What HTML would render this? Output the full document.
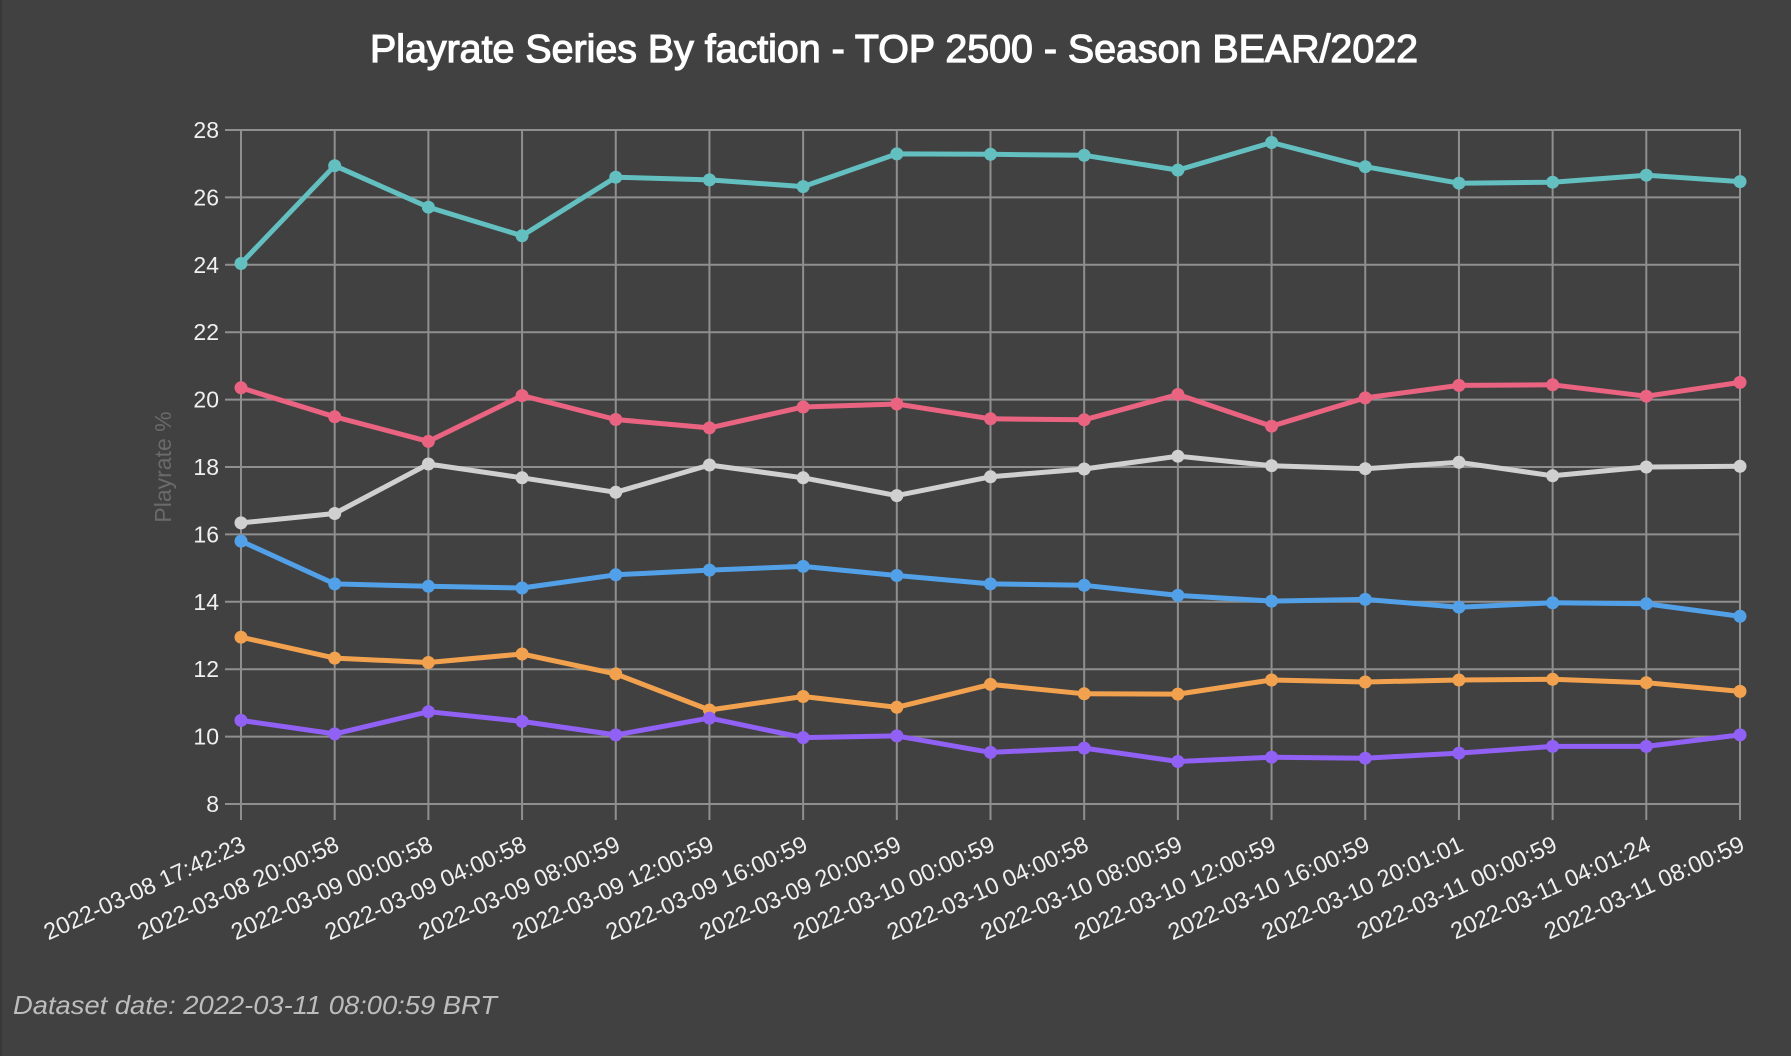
<!DOCTYPE html>
<html><head><meta charset="utf-8"><style>
html,body{margin:0;padding:0;background:#414141;}
body{width:1791px;height:1056px;overflow:hidden;}
svg{display:block;}
</style></head><body>
<svg width="1791" height="1056" viewBox="0 0 1791 1056" xmlns="http://www.w3.org/2000/svg" font-family="'Liberation Sans', Arial, sans-serif">
<rect x="0" y="0" width="1791" height="1056" fill="#414141"/>
<rect x="0" y="0" width="2" height="1056" fill="#383838"/>
<text x="370" y="62" font-size="39" fill="#ffffff" stroke="#ffffff" stroke-width="1.2" textLength="1048" lengthAdjust="spacingAndGlyphs">Playrate Series By faction - TOP 2500 - Season BEAR/2022</text>

<g stroke="#8f8f8f" stroke-width="2" fill="none">
<path d="M225 130H1741M225 197.4H1741M225 264.8H1741M225 332.2H1741M225 399.6H1741M225 467H1741M225 534.4H1741M225 601.8H1741M225 669.2H1741M225 736.6H1741M225 804H1741"/>
<path d="M241 130V820M334.69 130V820M428.38 130V820M522.06 130V820M615.75 130V820M709.44 130V820M803.13 130V820M896.81 130V820M990.5 130V820M1084.19 130V820M1177.88 130V820M1271.56 130V820M1365.25 130V820M1458.94 130V820M1552.63 130V820M1646.31 130V820M1740 130V820"/>
</g>

<g font-size="23" fill="#f0f0f0" text-anchor="end">
<text x="219" y="138">28</text>
<text x="219" y="205.4">26</text>
<text x="219" y="272.8">24</text>
<text x="219" y="340.2">22</text>
<text x="219" y="407.6">20</text>
<text x="219" y="475">18</text>
<text x="219" y="542.4">16</text>
<text x="219" y="609.8">14</text>
<text x="219" y="677.2">12</text>
<text x="219" y="744.6">10</text>
<text x="219" y="812">8</text>
</g>

<text transform="translate(171,467) rotate(-90)" font-size="23" fill="#6a6a6a" text-anchor="middle">Playrate %</text>

<g font-size="23.5" fill="#f0f0f0" text-anchor="end">
<text transform="translate(247,850) rotate(-24.5)">2022-03-08 17:42:23</text>
<text transform="translate(340.69,850) rotate(-24.5)">2022-03-08 20:00:58</text>
<text transform="translate(434.38,850) rotate(-24.5)">2022-03-09 00:00:58</text>
<text transform="translate(528.06,850) rotate(-24.5)">2022-03-09 04:00:58</text>
<text transform="translate(621.75,850) rotate(-24.5)">2022-03-09 08:00:59</text>
<text transform="translate(715.44,850) rotate(-24.5)">2022-03-09 12:00:59</text>
<text transform="translate(809.13,850) rotate(-24.5)">2022-03-09 16:00:59</text>
<text transform="translate(902.81,850) rotate(-24.5)">2022-03-09 20:00:59</text>
<text transform="translate(996.5,850) rotate(-24.5)">2022-03-10 00:00:59</text>
<text transform="translate(1090.19,850) rotate(-24.5)">2022-03-10 04:00:58</text>
<text transform="translate(1183.88,850) rotate(-24.5)">2022-03-10 08:00:59</text>
<text transform="translate(1277.56,850) rotate(-24.5)">2022-03-10 12:00:59</text>
<text transform="translate(1371.25,850) rotate(-24.5)">2022-03-10 16:00:59</text>
<text transform="translate(1464.94,850) rotate(-24.5)">2022-03-10 20:01:01</text>
<text transform="translate(1558.63,850) rotate(-24.5)">2022-03-11 00:00:59</text>
<text transform="translate(1652.31,850) rotate(-24.5)">2022-03-11 04:01:24</text>
<text transform="translate(1746,850) rotate(-24.5)">2022-03-11 08:00:59</text>
</g>

<!-- Teal -->
<g fill="#63bfc0" stroke="#63bfc0">
<polyline fill="none" stroke-width="5" stroke-linejoin="round" points="241,263.5 334.69,165.7 428.38,207.2 522.06,235.8 615.75,177.2 709.44,179.9 803.13,186.6 896.81,153.9 990.5,154.3 1084.19,155.3 1177.88,170.1 1271.56,142.5 1365.25,166.7 1458.94,183.2 1552.63,182.2 1646.31,175.2 1740,181.6"/>
<g stroke="none">
<circle cx="241" cy="263.5" r="6.5"/><circle cx="334.69" cy="165.7" r="6.5"/><circle cx="428.38" cy="207.2" r="6.5"/><circle cx="522.06" cy="235.8" r="6.5"/><circle cx="615.75" cy="177.2" r="6.5"/><circle cx="709.44" cy="179.9" r="6.5"/><circle cx="803.13" cy="186.6" r="6.5"/><circle cx="896.81" cy="153.9" r="6.5"/><circle cx="990.5" cy="154.3" r="6.5"/><circle cx="1084.19" cy="155.3" r="6.5"/><circle cx="1177.88" cy="170.1" r="6.5"/><circle cx="1271.56" cy="142.5" r="6.5"/><circle cx="1365.25" cy="166.7" r="6.5"/><circle cx="1458.94" cy="183.2" r="6.5"/><circle cx="1552.63" cy="182.2" r="6.5"/><circle cx="1646.31" cy="175.2" r="6.5"/><circle cx="1740" cy="181.6" r="6.5"/>
</g></g>

<!-- Red -->
<g fill="#ea6482" stroke="#ea6482">
<polyline fill="none" stroke-width="5" stroke-linejoin="round" points="241,387.8 334.69,416.8 428.38,441.4 522.06,395.6 615.75,419.5 709.44,427.9 803.13,407 896.81,404 990.5,418.8 1084.19,419.8 1177.88,394.5 1271.56,426.2 1365.25,397.9 1458.94,385.4 1552.63,384.8 1646.31,396.2 1740,382.4"/>
<g stroke="none">
<circle cx="241" cy="387.8" r="6.5"/><circle cx="334.69" cy="416.8" r="6.5"/><circle cx="428.38" cy="441.4" r="6.5"/><circle cx="522.06" cy="395.6" r="6.5"/><circle cx="615.75" cy="419.5" r="6.5"/><circle cx="709.44" cy="427.9" r="6.5"/><circle cx="803.13" cy="407" r="6.5"/><circle cx="896.81" cy="404" r="6.5"/><circle cx="990.5" cy="418.8" r="6.5"/><circle cx="1084.19" cy="419.8" r="6.5"/><circle cx="1177.88" cy="394.5" r="6.5"/><circle cx="1271.56" cy="426.2" r="6.5"/><circle cx="1365.25" cy="397.9" r="6.5"/><circle cx="1458.94" cy="385.4" r="6.5"/><circle cx="1552.63" cy="384.8" r="6.5"/><circle cx="1646.31" cy="396.2" r="6.5"/><circle cx="1740" cy="382.4" r="6.5"/>
</g></g>

<!-- Gray -->
<g fill="#d0d0d0" stroke="#d0d0d0">
<polyline fill="none" stroke-width="5" stroke-linejoin="round" points="241,522.9 334.69,513.5 428.38,464 522.06,477.8 615.75,492.3 709.44,465 803.13,477.8 896.81,495.6 990.5,476.8 1084.19,469 1177.88,456.2 1271.56,465.7 1365.25,468.7 1458.94,462.3 1552.63,475.8 1646.31,467 1740,466.3"/>
<g stroke="none">
<circle cx="241" cy="522.9" r="6.5"/><circle cx="334.69" cy="513.5" r="6.5"/><circle cx="428.38" cy="464" r="6.5"/><circle cx="522.06" cy="477.8" r="6.5"/><circle cx="615.75" cy="492.3" r="6.5"/><circle cx="709.44" cy="465" r="6.5"/><circle cx="803.13" cy="477.8" r="6.5"/><circle cx="896.81" cy="495.6" r="6.5"/><circle cx="990.5" cy="476.8" r="6.5"/><circle cx="1084.19" cy="469" r="6.5"/><circle cx="1177.88" cy="456.2" r="6.5"/><circle cx="1271.56" cy="465.7" r="6.5"/><circle cx="1365.25" cy="468.7" r="6.5"/><circle cx="1458.94" cy="462.3" r="6.5"/><circle cx="1552.63" cy="475.8" r="6.5"/><circle cx="1646.31" cy="467" r="6.5"/><circle cx="1740" cy="466.3" r="6.5"/>
</g></g>

<!-- Blue -->
<g fill="#52a1e8" stroke="#52a1e8">
<polyline fill="none" stroke-width="5" stroke-linejoin="round" points="241,541.1 334.69,583.9 428.38,586.3 522.06,588 615.75,574.8 709.44,570.1 803.13,566.4 896.81,575.5 990.5,583.9 1084.19,585.3 1177.88,595.4 1271.56,601.1 1365.25,599.4 1458.94,607.2 1552.63,602.8 1646.31,603.8 1740,616.3"/>
<g stroke="none">
<circle cx="241" cy="541.1" r="6.5"/><circle cx="334.69" cy="583.9" r="6.5"/><circle cx="428.38" cy="586.3" r="6.5"/><circle cx="522.06" cy="588" r="6.5"/><circle cx="615.75" cy="574.8" r="6.5"/><circle cx="709.44" cy="570.1" r="6.5"/><circle cx="803.13" cy="566.4" r="6.5"/><circle cx="896.81" cy="575.5" r="6.5"/><circle cx="990.5" cy="583.9" r="6.5"/><circle cx="1084.19" cy="585.3" r="6.5"/><circle cx="1177.88" cy="595.4" r="6.5"/><circle cx="1271.56" cy="601.1" r="6.5"/><circle cx="1365.25" cy="599.4" r="6.5"/><circle cx="1458.94" cy="607.2" r="6.5"/><circle cx="1552.63" cy="602.8" r="6.5"/><circle cx="1646.31" cy="603.8" r="6.5"/><circle cx="1740" cy="616.3" r="6.5"/>
</g></g>

<!-- Orange -->
<g fill="#f2a24f" stroke="#f2a24f">
<polyline fill="none" stroke-width="5" stroke-linejoin="round" points="241,637.2 334.69,658.1 428.38,662.5 522.06,654 615.75,673.9 709.44,710 803.13,696.5 896.81,707.3 990.5,684.4 1084.19,693.8 1177.88,694.1 1271.56,680 1365.25,682 1458.94,680 1552.63,679.3 1646.31,682.7 1740,691.4"/>
<g stroke="none">
<circle cx="241" cy="637.2" r="6.5"/><circle cx="334.69" cy="658.1" r="6.5"/><circle cx="428.38" cy="662.5" r="6.5"/><circle cx="522.06" cy="654" r="6.5"/><circle cx="615.75" cy="673.9" r="6.5"/><circle cx="709.44" cy="710" r="6.5"/><circle cx="803.13" cy="696.5" r="6.5"/><circle cx="896.81" cy="707.3" r="6.5"/><circle cx="990.5" cy="684.4" r="6.5"/><circle cx="1084.19" cy="693.8" r="6.5"/><circle cx="1177.88" cy="694.1" r="6.5"/><circle cx="1271.56" cy="680" r="6.5"/><circle cx="1365.25" cy="682" r="6.5"/><circle cx="1458.94" cy="680" r="6.5"/><circle cx="1552.63" cy="679.3" r="6.5"/><circle cx="1646.31" cy="682.7" r="6.5"/><circle cx="1740" cy="691.4" r="6.5"/>
</g></g>

<!-- Purple -->
<g fill="#9160f4" stroke="#9160f4">
<polyline fill="none" stroke-width="5" stroke-linejoin="round" points="241,720.4 334.69,733.9 428.38,711.7 522.06,721.4 615.75,734.9 709.44,718.1 803.13,737.6 896.81,735.9 990.5,752.4 1084.19,748.1 1177.88,761.5 1271.56,757.2 1365.25,758.2 1458.94,753.1 1552.63,746.4 1646.31,746.4 1740,734.9"/>
<g stroke="none">
<circle cx="241" cy="720.4" r="6.5"/><circle cx="334.69" cy="733.9" r="6.5"/><circle cx="428.38" cy="711.7" r="6.5"/><circle cx="522.06" cy="721.4" r="6.5"/><circle cx="615.75" cy="734.9" r="6.5"/><circle cx="709.44" cy="718.1" r="6.5"/><circle cx="803.13" cy="737.6" r="6.5"/><circle cx="896.81" cy="735.9" r="6.5"/><circle cx="990.5" cy="752.4" r="6.5"/><circle cx="1084.19" cy="748.1" r="6.5"/><circle cx="1177.88" cy="761.5" r="6.5"/><circle cx="1271.56" cy="757.2" r="6.5"/><circle cx="1365.25" cy="758.2" r="6.5"/><circle cx="1458.94" cy="753.1" r="6.5"/><circle cx="1552.63" cy="746.4" r="6.5"/><circle cx="1646.31" cy="746.4" r="6.5"/><circle cx="1740" cy="734.9" r="6.5"/>
</g></g>

<text x="13" y="1014" font-size="26" font-style="italic" fill="#bdbdbd" textLength="484" lengthAdjust="spacingAndGlyphs">Dataset date: 2022-03-11 08:00:59 BRT</text>
</svg>
</body></html>
